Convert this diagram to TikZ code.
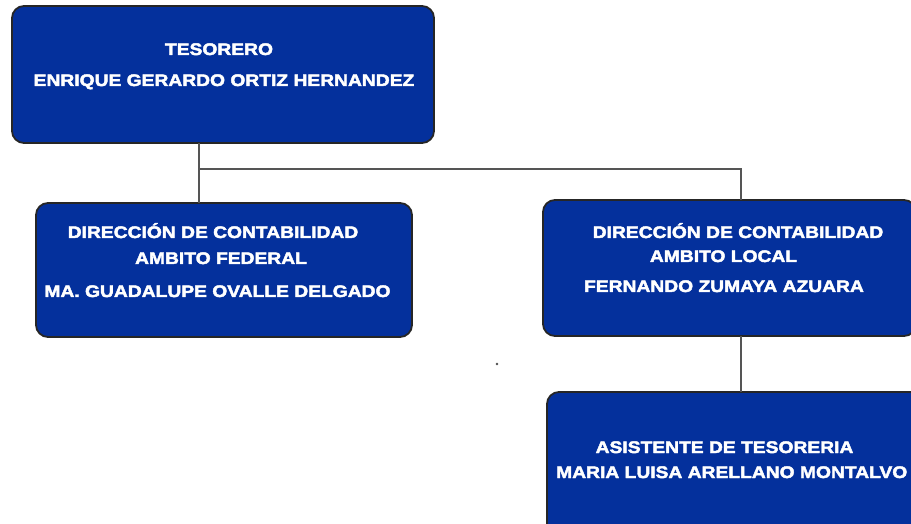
\documentclass[tikz,border=0pt]{standalone}
\usepackage{fontspec}
\setmainfont{Liberation Sans}[FakeStretch=1.15,BoldFeatures={FakeBold=2.6}]
\definecolor{boxblue}{RGB}{4,48,156}
\definecolor{linegray}{RGB}{85,85,85}
\begin{document}
\begin{tikzpicture}[x=1bp,y=-1bp,
  orgbox/.style={draw=black!85, line width=1.8bp, fill=boxblue, rounded corners=12bp},
  lbl/.style={text=white, font=\fontsize{16.8}{19}\selectfont\bfseries, inner sep=0pt, anchor=base},
  conn/.style={draw=linegray, line width=1.5bp}]
\useasboundingbox (0,0) rectangle (911,524);
\clip (0,0) rectangle (911,524);
% boxes
\draw[orgbox] (12,6) rectangle (434,143);
\node[inner sep=0pt, minimum width=422bp, minimum height=137bp] (tes) at (223,74.5) {};
\draw[orgbox] (36,203) rectangle (412,337);
\node[inner sep=0pt, minimum width=376bp, minimum height=134bp] (fed) at (224,270) {};
\draw[orgbox] (543,200) rectangle (916,336);
\node[inner sep=0pt, minimum width=373bp, minimum height=136bp] (loc) at (729.5,268) {};
\draw[orgbox] (547,392) rectangle (922,545);
\node[inner sep=0pt, minimum width=375bp, minimum height=153bp] (asi) at (734.5,468.5) {};
% connectors
\coordinate (j1) at (199,169);
\coordinate (j2) at (741,169);
\draw[conn] (tes.south -| j1) -- (j1) -- (j2) -- (loc.north -| j2);
\draw[conn] (j1) -- (fed.north -| j1);
\draw[conn] (loc.south -| j2) -- (asi.north -| j2);
% texts
\node[lbl] (t1) at (219,55) {TESORERO};
\node[lbl] (t2) at (224,86) {ENRIQUE GERARDO ORTIZ HERNANDEZ};
\node[lbl] (f1) at (213,238) {DIRECCIÓN DE CONTABILIDAD};
\node[lbl] (f2) at (221,264) {AMBITO FEDERAL};
\node[lbl] (f3) at (217.5,297) {MA. GUADALUPE OVALLE DELGADO};
\node[lbl] (l1) at (738,238) {DIRECCIÓN DE CONTABILIDAD};
\node[lbl] (l2) at (723.5,262) {AMBITO LOCAL};
\node[lbl] (l3) at (724,292) {FERNANDO ZUMAYA AZUARA};
\node[lbl] (a1) at (724.5,453) {ASISTENTE DE TESORERIA};
\node[lbl, anchor=base west] (a2) at (556,478) {MARIA LUISA ARELLANO MONTALVO};
% stray dot
\fill[black!70] (497,364) circle (1.3bp);
\end{tikzpicture}
\end{document}
